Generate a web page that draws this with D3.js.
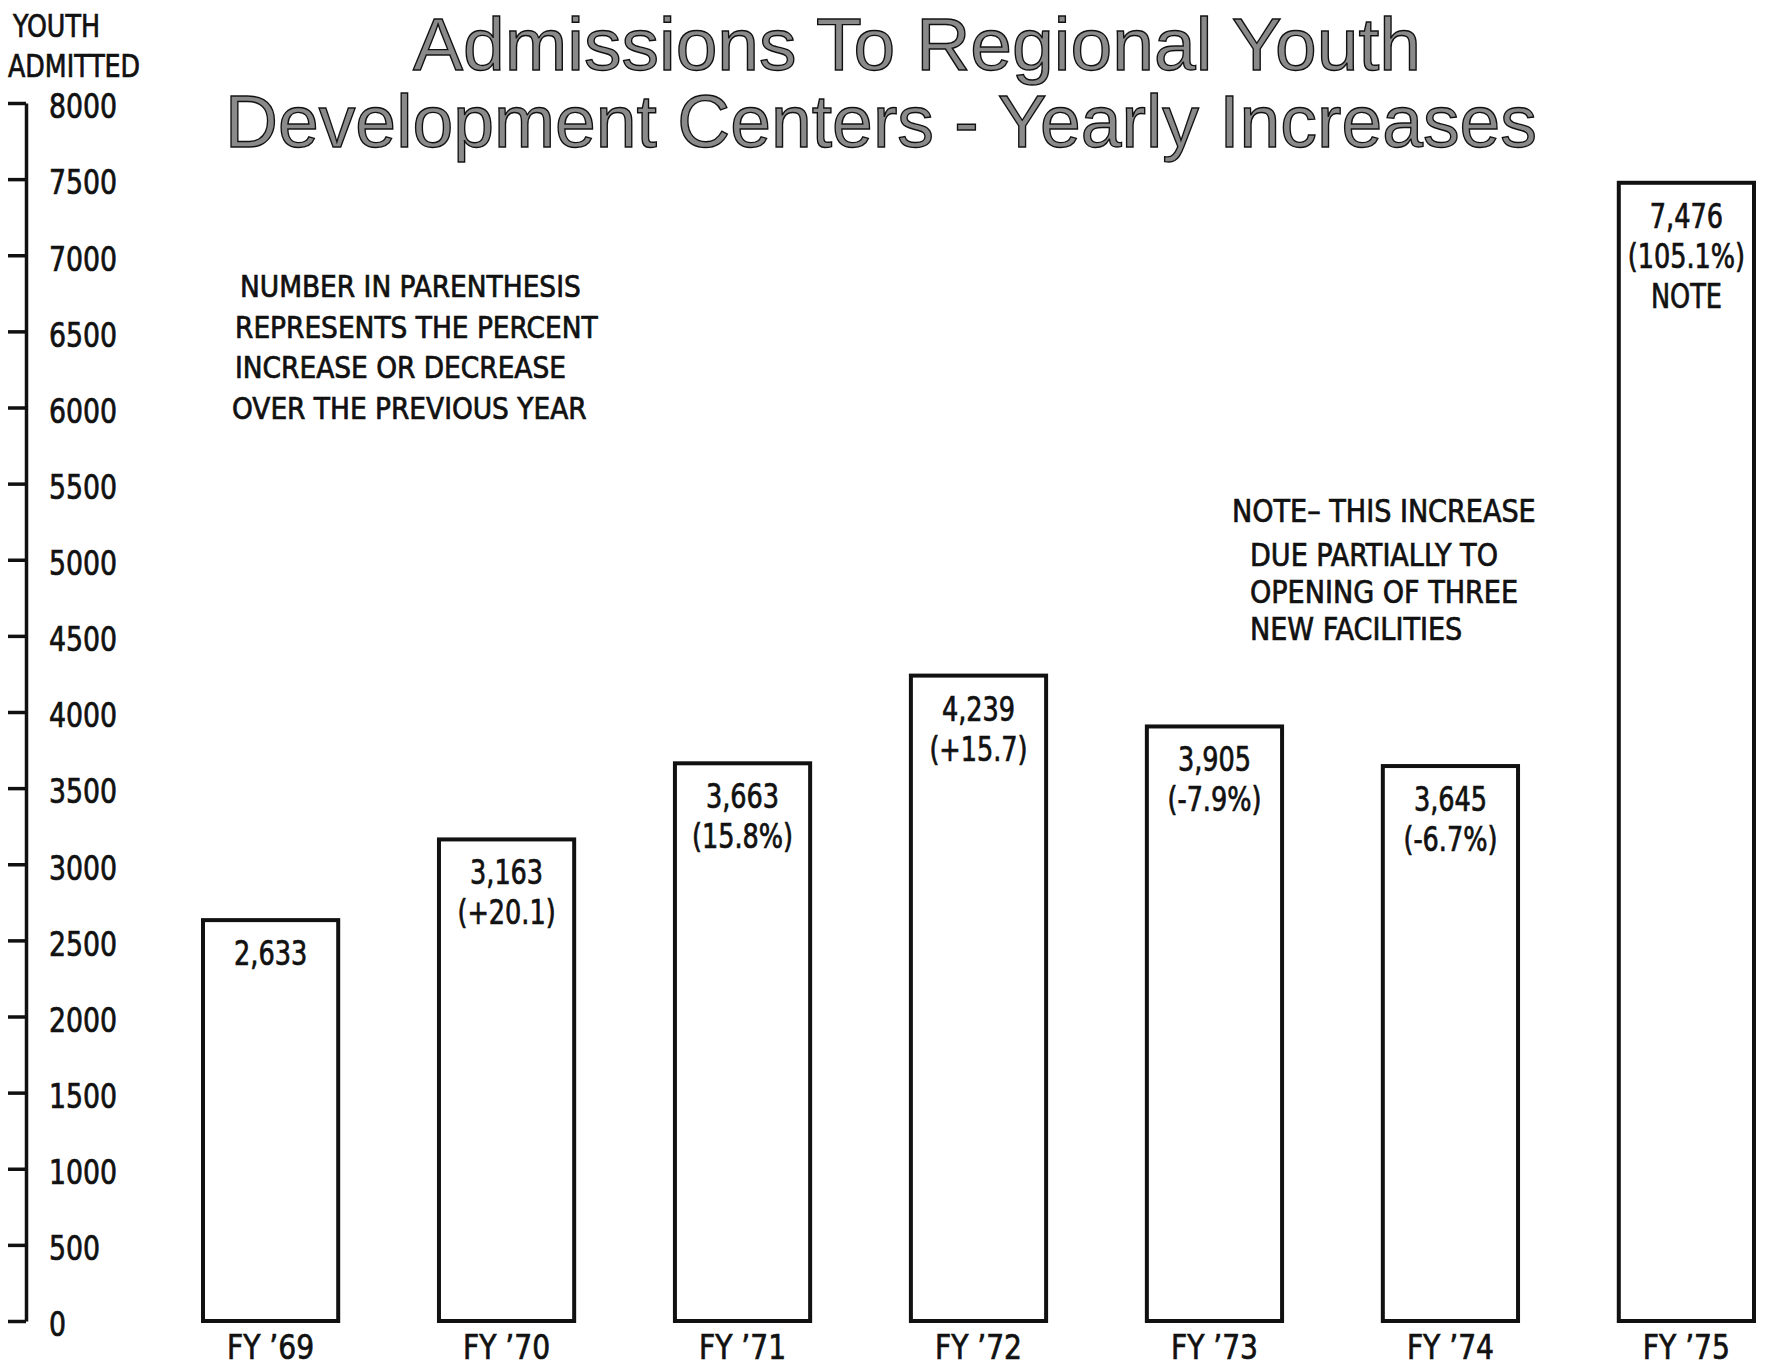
<!DOCTYPE html>
<html>
<head>
<meta charset="utf-8">
<script src="https://cdn.jsdelivr.net/npm/d3@7"></script>
<style>
  body { margin: 0; background: #fff; }
  svg { display: block; }
</style>
</head>
<body>
<script>
// Data
const years = ["FY \u201969", "FY \u201970", "FY \u201971", "FY \u201972", "FY \u201973", "FY \u201974", "FY \u201975"];
const admitted = [2633, 3163, 3663, 4239, 3905, 3645, 7476];
const changes = ["", "(+20.1)", "(15.8%)", "(+15.7)", "(-7.9%)", "(-6.7%)", "(105.1%)"];
const barNotes = ["", "", "", "", "", "", "NOTE"];
const yTicks = [0, 500, 1000, 1500, 2000, 2500, 3000, 3500, 4000, 4500, 5000, 5500, 6000, 6500, 7000, 7500, 8000];

// Texts
const titleLines = ["Admissions To Regional Youth", "Development Centers - Yearly Increases"];
const axisTitle = ["YOUTH", "ADMITTED"];
const legendLines = ["NUMBER IN PARENTHESIS", "REPRESENTS THE PERCENT", "INCREASE OR DECREASE", "OVER THE PREVIOUS YEAR"];
const noteLines = ["NOTE\u2013 THIS INCREASE", "DUE PARTIALLY TO", "OPENING OF THREE", "NEW FACILITIES"];

const width = 1766, height = 1368;
const font = "'Liberation Sans Narrow', 'DejaVu Sans Condensed', sans-serif";

// squeeze a text horizontally (the original type is narrower than what we have)
function narrow(sel, k) {
  sel.each(function() {
    const len = this.getComputedTextLength();
    d3.select(this)
      .attr("textLength", len * k)
      .attr("lengthAdjust", "spacingAndGlyphs");
  });
}

// heavier strokes, like the printed type
function ink(sel) {
  sel.attr("fill", "#111")
    .attr("stroke", "#111")
    .attr("stroke-width", 0.7);
}

const svg = d3.select("body")
  .append("svg")
  .attr("width", width)
  .attr("height", height);

// Scales
const x = d3.scaleBand()
  .domain(years)
  .range([203, 1754])
  .paddingInner(0.427)
  .paddingOuter(0);

const y = d3.scaleLinear()
  .domain([0, 8000])
  .range([1321, 103]);

// Y axis: ticks to the left, labels to the right of the line
const axisX = 26;
const yAxis = svg.append("g")
  .attr("transform", `translate(${axisX},0)`)
  .call(d3.axisLeft(y).tickValues(yTicks).tickSize(18).tickSizeOuter(0).tickFormat(d3.format("d")));

yAxis.select(".domain")
  .attr("stroke", "#111")
  .attr("stroke-width", 3.5);
yAxis.selectAll(".tick line")
  .attr("stroke", "#111")
  .attr("stroke-width", 3.5);
yAxis.selectAll(".tick text")
  .attr("x", 23)
  .attr("dy", "0.45em")
  .attr("text-anchor", "start")
  .attr("font-family", font)
  .attr("font-size", 33)
  .call(ink)
  .call(narrow, 0.9);

// Axis title
svg.append("g")
  .selectAll("text")
  .data(axisTitle)
  .enter()
  .append("text")
  .attr("x", (d, i) => i === 0 ? 13 : 8)
  .attr("y", (d, i) => 37 + i * 40)
  .attr("font-family", font)
  .attr("font-size", 32)
  .call(ink)
  .text(d => d)
  .call(narrow, 0.88);

// Title
svg.append("g")
  .selectAll("text")
  .data(titleLines)
  .enter()
  .append("text")
  .attr("x", (d, i) => i === 0 ? 413 : 225)
  .attr("y", (d, i) => i === 0 ? 70 : 147)
  .attr("textLength", (d, i) => i === 0 ? 1008 : 1312)
  .attr("lengthAdjust", "spacingAndGlyphs")
  .attr("font-family", "'Liberation Sans', Arial, sans-serif")
  .attr("font-size", 75)
  .attr("fill", "#8a8a8a")
  .attr("stroke", "#111")
  .attr("stroke-width", 1.4)
  .text(d => d);

// Bars
const bars = svg.append("g")
  .selectAll("g")
  .data(years)
  .enter()
  .append("g");

bars.append("rect")
  .attr("x", d => x(d))
  .attr("y", (d, i) => y(admitted[i]))
  .attr("width", x.bandwidth())
  .attr("height", (d, i) => y(0) - y(admitted[i]))
  .attr("fill", "#fff")
  .attr("stroke", "#111")
  .attr("stroke-width", 4);

// Labels inside bars
bars.each(function(d, i) {
  const g = d3.select(this);
  const cx = x(d) + x.bandwidth() / 2;
  const top = y(admitted[i]);
  const lines = [d3.format(",")(admitted[i]), changes[i], barNotes[i]].filter(s => s !== "");
  lines.forEach((s, j) => {
    g.append("text")
      .attr("x", cx)
      .attr("y", top + 45 + j * 40)
      .attr("text-anchor", "middle")
      .attr("font-family", font)
      .attr("font-size", 33)
      .call(ink)
      .text(s)
      .call(narrow, 0.86);
  });
});

// Category labels
bars.append("text")
  .attr("x", d => x(d) + x.bandwidth() / 2)
  .attr("y", 1359)
  .attr("text-anchor", "middle")
  .attr("font-family", font)
  .attr("font-size", 34)
  .call(ink)
  .text(d => d)
  .call(narrow, 0.92);

// Explanation of parentheses
svg.append("g")
  .selectAll("text")
  .data(legendLines)
  .enter()
  .append("text")
  .attr("x", (d, i) => [240, 235, 235, 232][i])
  .attr("y", (d, i) => 297 + i * 40.5)
  .attr("font-family", font)
  .attr("font-size", 30)
  .call(ink)
  .text(d => d)
  .call(narrow, 0.98);

// Note on FY '75
svg.append("g")
  .selectAll("text")
  .data(noteLines)
  .enter()
  .append("text")
  .attr("x", (d, i) => i === 0 ? 1232 : 1250)
  .attr("y", (d, i) => [522, 566, 603, 640][i])
  .attr("font-family", font)
  .attr("font-size", 32)
  .call(ink)
  .text(d => d)
  .call(narrow, 0.94);
</script>
</body>
</html>
